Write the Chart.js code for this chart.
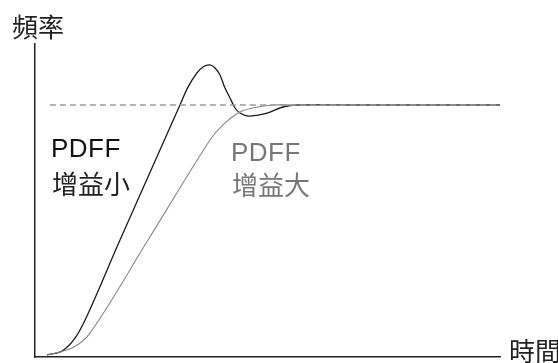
<!DOCTYPE html>
<html>
<head>
<meta charset="utf-8">
<script src="https://cdn.jsdelivr.net/npm/chart.js@4.4.1/dist/chart.umd.min.js"></script>
<style>
  html, body { margin: 0; padding: 0; background: #fff; }
  #wrap { position: relative; width: 558px; height: 363px; overflow: hidden; }
  .lbl { position: absolute; font-size: 26px; line-height: 26px; white-space: nowrap; }
  .cjk { font-family: "Noto Sans CJK TC", "Noto Sans CJK SC", sans-serif; }
  .lat { font-family: "Liberation Sans", Arial, sans-serif; letter-spacing: 0.5px; }
</style>
</head>
<body>
<div id="wrap">
  <canvas id="grafico" width="558" height="363"></canvas>
  <div class="lbl cjk" style="left:12px; top:13px; color:#222;">頻率</div>
  <div class="lbl cjk" style="left:509px; top:337px; color:#222;">時間</div>
  <div class="lbl lat" style="left:51px; top:135px; color:#111;">PDFF</div>
  <div class="lbl cjk" style="left:52px; top:170px; color:#222;">增益小</div>
  <div class="lbl lat" style="left:231px; top:139px; color:#777;">PDFF</div>
  <div class="lbl cjk" style="left:232px; top:171px; color:#777;">增益大</div>
</div>
<script>
// tempo (0-100) e frequenza (1 = valore di regime)
const tempoPiccolo = [2.58, 5.81, 8.6, 11.18, 18.28, 31.18, 32.9, 34.84, 36.13, 37.63, 38.71, 39.78, 40.86, 41.94, 43.01, 44.09, 45.81, 47.96, 49.89, 53.33, 56.5, 67.7, 100];
const freqPiccolo  = [0.008, 0.024, 0.075, 0.163, 0.464, 1.0, 1.071, 1.127, 1.151, 1.159, 1.147, 1.119, 1.067, 1.028, 0.988, 0.968, 0.956, 0.96, 0.968, 0.992, 1.0, 1.0, 1.0];

const tempoGrande = [2.58, 7.96, 11.83, 24.3, 37.63, 40.43, 44.09, 47.96, 51.6, 54.84, 67.7, 100];
const freqGrande  = [0.008, 0.036, 0.095, 0.464, 0.861, 0.921, 0.972, 0.992, 1.0, 1.0, 1.0, 1.0];

const tempoRegime = [3.2, 100];
const freqRegime  = [1, 1];

function punti(xs, ys) {
  return xs.map((x, i) => ({ x: x, y: ys[i] }));
}

const ctx = document.getElementById('grafico').getContext('2d');
const grafico = new Chart(ctx, {
  type: 'line',
  data: {
    datasets: [{
      label: 'regime',
      data: punti(tempoRegime, freqRegime),
      borderColor: '#9a9a9a',
      borderWidth: 1.5,
      borderDash: [6, 4],
      pointRadius: 0
    }, {
      label: 'PDFF 增益大',
      data: punti(tempoGrande, freqGrande),
      borderColor: '#888',
      borderWidth: 1.1,
      pointRadius: 0,
      tension: 0.35
    }, {
      label: 'PDFF 增益小',
      data: punti(tempoPiccolo, freqPiccolo),
      borderColor: '#1a1a1a',
      borderWidth: 1.3,
      pointRadius: 0,
      tension: 0.35
    }]
  },
  options: {
    responsive: false,
    animation: false,
    layout: {
      padding: { left: 35, right: 58, top: 44, bottom: 6 }
    },
    plugins: {
      legend: { display: false },
      tooltip: { enabled: false }
    },
    scales: {
      x: {
        type: 'linear',
        min: 0,
        max: 100,
        grid: { display: false, drawTicks: false },
        ticks: { display: false },
        border: { display: true, color: '#222', width: 1.5 }
      },
      y: {
        min: 0,
        max: 1.242,
        grid: { display: false, drawTicks: false },
        ticks: { display: false },
        border: { display: true, color: '#222', width: 1.5 }
      }
    }
  }
});
</script>
</body>
</html>
